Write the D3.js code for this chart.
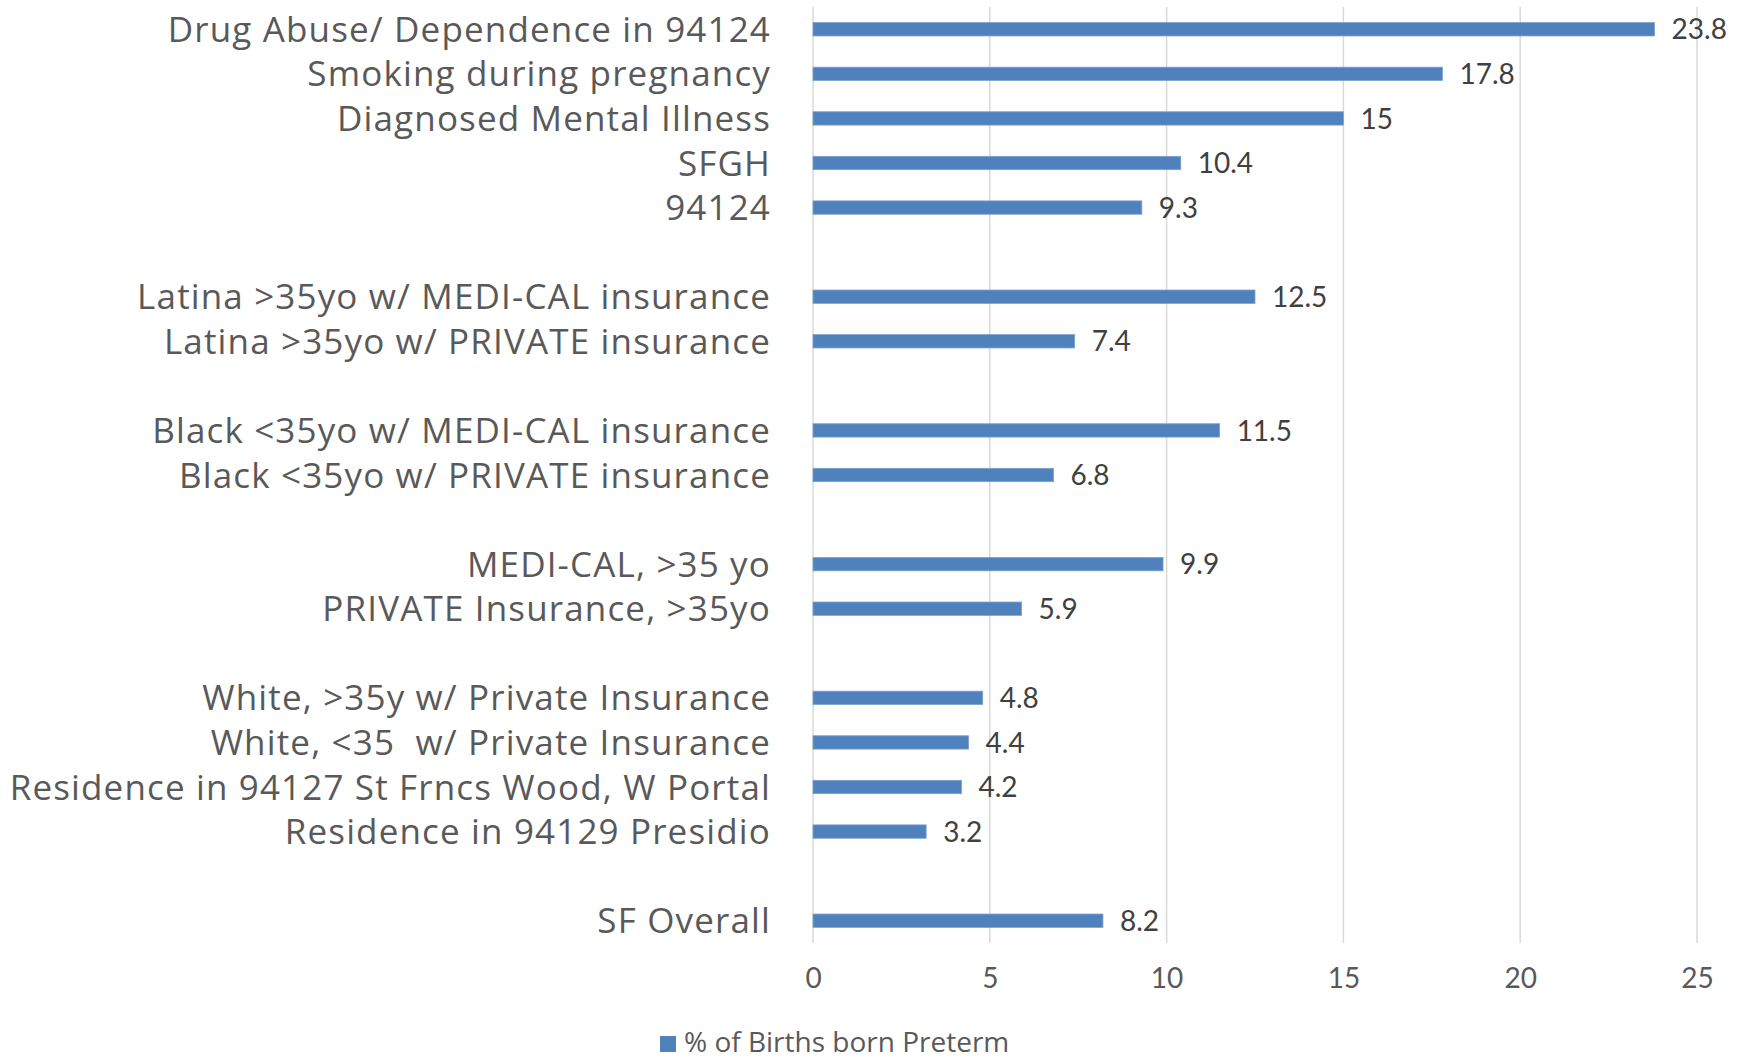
<!DOCTYPE html>
<html>
<head>
<meta charset="utf-8">
<script src="https://cdn.jsdelivr.net/npm/d3@7"></script>
<style>
  body { margin: 0; background: #fff; }
  text { font-family: Lato, "Open Sans", sans-serif; }
</style>
</head>
<body>
<div id="chart"></div>
<script>
"use strict"

// categories top to bottom, "" = empty spacer row
const categories = [
  "Drug Abuse/ Dependence in 94124",
  "Smoking during pregnancy",
  "Diagnosed Mental Illness",
  "SFGH",
  "94124",
  "",
  "Latina >35yo w/ MEDI-CAL insurance",
  "Latina >35yo w/ PRIVATE insurance",
  "",
  "Black <35yo w/ MEDI-CAL insurance",
  "Black <35yo w/ PRIVATE insurance",
  "",
  "MEDI-CAL, >35 yo",
  "PRIVATE Insurance, >35yo",
  "",
  "White, >35y w/ Private Insurance",
  "White, <35  w/ Private Insurance",
  "Residence in 94127 St Frncs Wood, W Portal",
  "Residence in 94129 Presidio",
  "",
  "SF Overall"
]
const values = [23.8, 17.8, 15, 10.4, 9.3, null, 12.5, 7.4, null, 11.5, 6.8, null, 9.9, 5.9, null, 4.8, 4.4, 4.2, 3.2, null, 8.2]
const xTicks = [0, 5, 10, 15, 20, 25]
const seriesName = "% of Births born Preterm"

const width = 1748, height = 1060
const margin = {top: 7, left: 813, right: 51, bottom: 117}

const data = categories.map(function(c, i) { return {i: i, label: c, value: values[i]} })

var svg = d3.select("#chart")
  .append("svg")
  .attr("width", width)
  .attr("height", height)

var x = d3.scaleLinear()
  .domain([0, 25])
  .range([margin.left, width - margin.right])

var y = d3.scaleBand()
  .domain(data.map(function(d) { return d.i }))
  .range([margin.top, height - margin.bottom])
  .paddingInner(0.7)
  .paddingOuter(0.35)

// gridlines
svg.append("g")
  .selectAll("line")
  .data(xTicks)
  .enter()
  .append("line")
    .attr("x1", function(d) { return x(d) })
    .attr("x2", function(d) { return x(d) })
    .attr("y1", margin.top)
    .attr("y2", height - margin.bottom)
    .style("stroke", "#d9d9d9")
    .style("stroke-width", 1.5)

// x axis labels
var xAxis = svg.append("g")
  .attr("transform", "translate(0," + (height - margin.bottom + 22) + ")")
  .call(d3.axisBottom(x).tickValues(xTicks).tickSize(0).tickFormat(d3.format("d")))
xAxis.select(".domain").remove()
xAxis.selectAll("text")
  .style("font-family", "Lato, sans-serif")
  .style("font-size", "28px")
  .style("fill", "#595959")

// category labels
svg.append("g")
  .selectAll("text")
  .data(data.filter(function(d) { return d.label !== "" }))
  .enter()
  .append("text")
    .attr("x", 771)
    .attr("y", function(d) { return y(d.i) + y.bandwidth() / 2 })
    .attr("dy", "0.36em")
    .attr("text-anchor", "end")
    .style("font-family", "'Open Sans', sans-serif")
    .style("font-size", "35px")
    .style("letter-spacing", "1.15px")
    .style("fill", "#595959")
    .style("white-space", "pre")
    .text(function(d) { return d.label })

var bars = data.filter(function(d) { return d.value !== null })

// bars
svg.append("g")
  .selectAll("rect")
  .data(bars)
  .enter()
  .append("rect")
    .attr("x", x(0))
    .attr("y", function(d) { return y(d.i) })
    .attr("width", function(d) { return x(d.value) - x(0) })
    .attr("height", y.bandwidth())
    .style("fill", "#4f81bd")
    .style("stroke", "#7da2cf")
    .style("stroke-width", 0.8)

// value labels
svg.append("g")
  .selectAll("text")
  .data(bars)
  .enter()
  .append("text")
    .attr("x", function(d) { return x(d.value) + 17 })
    .attr("y", function(d) { return y(d.i) + y.bandwidth() / 2 })
    .attr("dy", "0.36em")
    .style("font-size", "28px")
    .style("fill", "#404040")
    .text(function(d) { return d.value })

// legend
var legend = svg.append("g")
legend.append("rect")
  .attr("x", 660)
  .attr("y", 1036)
  .attr("width", 16)
  .attr("height", 16)
  .style("fill", "#4f81bd")
legend.append("text")
  .attr("x", 684)
  .attr("y", 1052)
  .style("font-family", "'Open Sans', sans-serif")
  .style("font-size", "28px")
  .style("fill", "#595959")
  .text(seriesName)
</script>
</body>
</html>
